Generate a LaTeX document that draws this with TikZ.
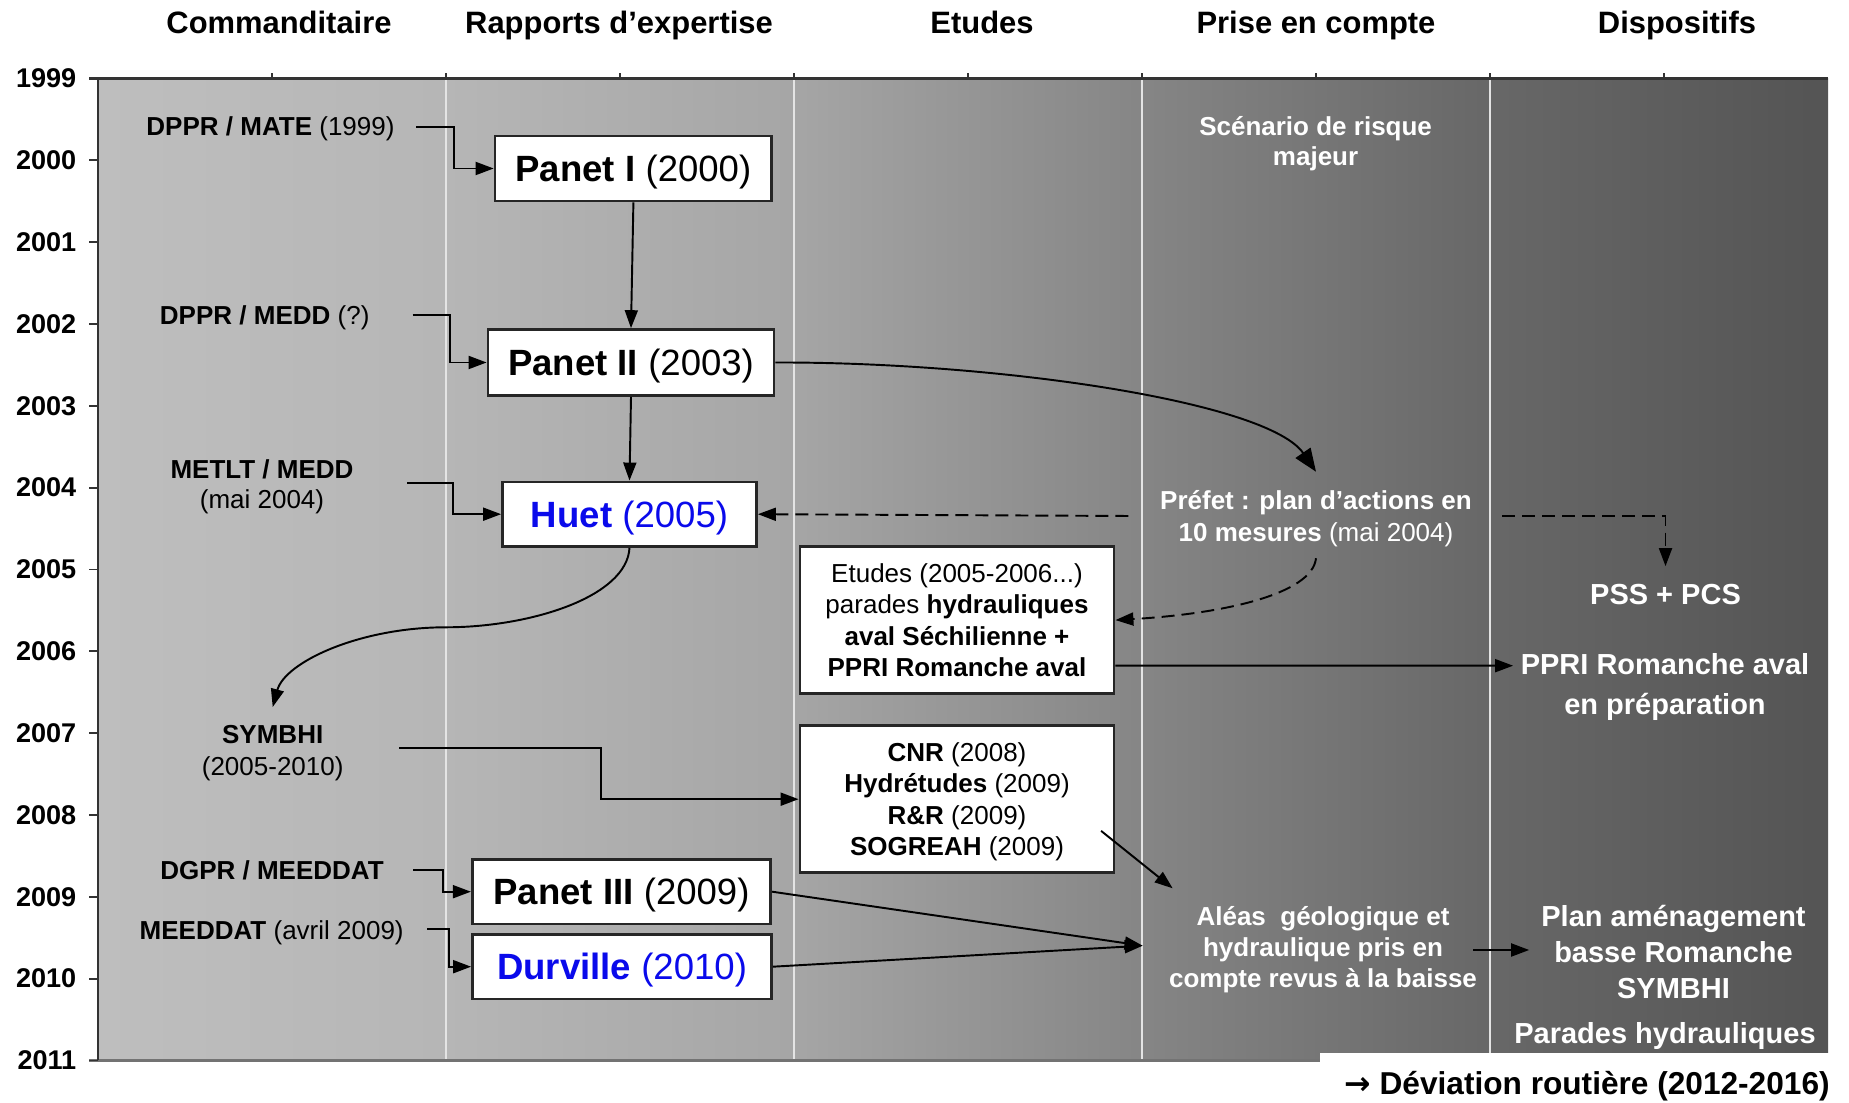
\documentclass[tikz,border=0pt]{standalone}
\usepackage{fontspec}
\setmainfont{Liberation Sans}
\newfontfamily\symfont{DejaVu Sans}
\usetikzlibrary{arrows.meta}
\newcommand\myfs[2]{\fontsize{#1}{#2}\selectfont}
\definecolor{g0}{HTML}{BEBEBE}
\definecolor{g1}{HTML}{B6B6B6}
\definecolor{g2}{HTML}{A6A6A6}
\definecolor{g3}{HTML}{868686}
\definecolor{g4}{HTML}{686868}
\definecolor{g5}{HTML}{545454}
\definecolor{blu}{RGB}{10,10,235}
\definecolor{vline}{RGB}{228,228,228}
\pgfdeclarehorizontalshading{bgshade}{100bp}{color(0bp)=(g0); color(25bp)=(g0); color(35bp)=(g1); color(45bp)=(g2); color(55bp)=(g3); color(65bp)=(g4); color(75bp)=(g5); color(100bp)=(g5)}
\begin{document}
\begin{tikzpicture}[x=0.1mm,y=-0.1mm,
  lab/.style={font=\myfs{7.4pt}{8.8pt}, inner sep=0pt, text=black},
  wlab/.style={lab, text=white},
  dlab/.style={font=\bfseries\myfs{8.25pt}{11.3pt}, align=center, inner sep=0pt, text=white},
  box/.style={draw=black!85, line width=0.8pt, fill=white, inner sep=0pt, text depth=0pt, font=\myfs{10.4pt}{12pt}},
  sbox/.style={box, font=\myfs{7.4pt}{9pt}, align=center},
  arr/.style={-{Triangle[length=1.8mm,width=1.3mm]}, line width=0.55pt},
  darr/.style={arr, dash pattern=on 1.3mm off 0.7mm},
  head/.style={font=\bfseries\myfs{8.8pt}{10pt}, inner sep=0pt, anchor=base},
  yr/.style={font=\bfseries\myfs{7.7pt}{9pt}, inner sep=0pt, anchor=east}]
\useasboundingbox (0,0) rectangle (1849,1103);
% background
\fill[shading=bgshade] (98,78.5) rectangle (1828,1060.5);
\foreach \x in {446,794,1142,1490} \draw[vline, line width=0.4pt] (\x,78.5) -- (\x,1060.5);
% axes
\draw[black!55, line width=1pt] (89,1060.5) -- (1828,1060.5);
\draw[black!80, line width=0.6pt] (89,78.5) -- (1828,78.5);
\draw[black!80, line width=0.5pt] (98,78.5) -- (98,1060.5);
\foreach \k in {0,...,12} \draw[black!80, line width=0.5pt] (89,{78.5+81.83*\k}) -- (98,{78.5+81.83*\k});
\foreach \x in {272,446,620,794,968,1142,1316,1490,1664} \draw[black!80, line width=0.5pt] (\x,78.5) -- (\x,73.5);
\fill[white] (1320,1053) rectangle (1849,1103);
% years
\foreach \y [count=\k from 0] in {1999,...,2011} \node[yr] (y\y) at (77,{78.5+81.83*\k}) {\y};
% headings
\node[head] (h1) at (279,34) {Commanditaire};
\node[head] (h2) at (619,34) {Rapports d’expertise};
\node[head] (h3) at (982,34) {Etudes};
\node[head] (h4) at (1316,34) {Prise en compte};
\node[head] (h5) at (1677,34) {Dispositifs};
% commanditaires
\node[lab, anchor=base] (c1) at (270.5,135.7) {\textbf{DPPR / MATE} (1999)};
\node[lab, anchor=base] (c2) at (264.7,325) {\textbf{DPPR / MEDD} (?)};
\node[lab, align=center, font=\myfs{7.4pt}{8.6pt}] (c3) at (262,486.5) {\textbf{METLT / MEDD}\\(mai 2004)};
\node[lab, align=center, font=\myfs{7.4pt}{9.1pt}] (c4) at (272.7,753) {\textbf{SYMBHI}\\(2005-2010)};
\node[lab, anchor=base] (c5) at (272,879.3) {\textbf{DGPR / MEEDDAT}};
\node[lab, anchor=base] (c6) at (271.7,939.3) {\textbf{MEEDDAT} (avril 2009)};
% expertise boxes
\node[box, minimum width=27.67mm, minimum height=6.5mm] (p1) at (633.4,168.5) {\textbf{Panet I} (2000)};
\node[box, minimum width=28.6mm, minimum height=6.58mm] (p2) at (631,362.5) {\textbf{Panet II} (2003)};
\node[box, minimum width=25.4mm, minimum height=6.44mm, text=blu] (huet) at (629.5,514.2) {\textbf{Huet} (2005)};
\node[box, minimum width=29.84mm, minimum height=6.47mm] (p3) at (621.5,891.7) {\textbf{Panet III} (2009)};
\node[box, minimum width=29.9mm, minimum height=6.47mm, text=blu] (durv) at (622,966.7) {\textbf{Durville} (2010)};
% etudes boxes
\node[sbox, minimum width=31.4mm, minimum height=14.7mm, font=\myfs{7.4pt}{9pt}] (etu) at (957,620.1) {Etudes (2005-2006...)\\parades \textbf{hydrauliques}\\\textbf{aval Séchilienne +}\\\textbf{PPRI Romanche aval}};
\node[sbox, minimum width=31.4mm, minimum height=14.7mm, font=\myfs{7.4pt}{8.9pt}] (cnr) at (957,799.2) {\textbf{CNR} (2008)\\\textbf{Hydrétudes} (2009)\\\textbf{R\&R} (2009)\\\textbf{SOGREAH} (2009)};
% prise en compte
\node[wlab, align=center, font=\bfseries\myfs{7.4pt}{8.4pt}] (scen) at (1315.6,143.5) {Scénario de risque\\majeur};
\node[wlab, align=center, font=\myfs{7.4pt}{9pt}] (pref) at (1316,518.5) {\textbf{Préfet~: plan d’actions en}\\\textbf{10 mesures} (mai 2004)};
\node[wlab, align=center, font=\bfseries\myfs{7.4pt}{8.8pt}] (alea) at (1323,950) {Aléas~ géologique et\\hydraulique pris en\\compte revus à la baisse};
% dispositifs
\node[dlab, anchor=base] (pss) at (1665.5,604.6) {PSS + PCS};
\node[dlab] (ppri) at (1665,687) {PPRI Romanche aval\\en préparation};
\node[dlab, font=\bfseries\myfs{8.25pt}{10.2pt}] (plan) at (1673.5,952) {Plan aménagement\\basse Romanche\\SYMBHI};
\node[dlab, anchor=base] (par) at (1665,1044) {Parades hydrauliques};
\node[font=\bfseries\myfs{9pt}{10pt}, inner sep=0pt, anchor=base] (dev) at (1587,1095) {{\symfont\bfseries →}~Déviation routière (2012-2016)};
% connectors
\draw[arr] ([xshift=2.1mm,yshift=0.22mm]c1.east) -- ++(38,0) |- (p1.west);
\draw[arr] ([xshift=4.25mm,yshift=0.33mm]c2.east) -- ++(37.5,0) |- (p2.west);
\draw[arr] ([xshift=5.3mm,yshift=0.37mm]c3.east) -- ++(46,0) |- (huet.west);
\draw[arr] ([xshift=5.5mm,yshift=0.47mm]c4.east) -- ++(202,0) |- (cnr.west);
\draw[arr] ([xshift=2.9mm]c5.east) -- ++(29.7,0) |- (p3.west);
\draw[arr] ([xshift=2.3mm,yshift=0.36mm]c6.east) -- ++(22,0) |- (durv.west);
\draw[arr] (p1.south) -- (p2.north);
\draw[arr] (p2.south) -- (huet.north);
\draw[arr] (huet.south) .. controls (627,597) and (530,627.3) .. (446,627.3) .. controls (360,627.3) and (285,662) .. ([yshift=1.75mm]c4.north);
\draw[-{Triangle[length=2.3mm,width=1.8mm]}, line width=0.55pt] (p2.east) .. controls (1000,362) and (1268,402) .. ([yshift=1.8mm]pref.north);
\draw[darr] ([xshift=-3.1mm,yshift=0.25mm]pref.west) -- (huet.east);
\draw[darr] ([xshift=2.95mm,yshift=0.25mm]pref.east) -| ([yshift=1.75mm]pss.north);
\draw[darr] ([yshift=-1.1mm]pref.south) .. controls (1312,595) and (1220,614) .. (etu.east);
\draw[arr] ([yshift=-4.56mm]etu.east) -- ([xshift=-0.7mm,yshift=2.13mm]ppri.west);
\draw[arr] ([xshift=-1.43mm,yshift=4.32mm]cnr.south east) -- ([xshift=0.43mm,yshift=6.17mm]alea.west);
\draw[arr] (p3.east) -- ([xshift=-2.57mm,yshift=0.43mm]alea.west);
\draw[arr] (durv.east) -- ([xshift=-2.57mm,yshift=0.43mm]alea.west);
\draw[arr] ([xshift=-0.45mm]alea.east) -- ([xshift=-1.15mm]alea.east -| plan.west);
\end{tikzpicture}
\end{document}
